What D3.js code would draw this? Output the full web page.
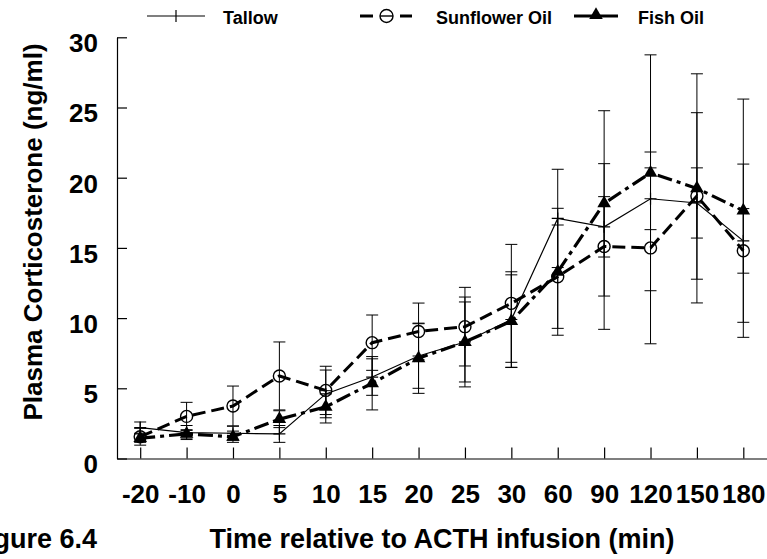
<!DOCTYPE html>
<html>
<head>
<meta charset="utf-8">
<script src="https://cdn.jsdelivr.net/npm/d3@7"></script>
<style>
  body { margin: 0; background: #fff; }
  svg { display: block; font-family: Arial, "Liberation Sans", Helvetica, sans-serif; font-weight: bold; }
</style>
</head>
<body>
<svg id="chart" width="767" height="559"></svg>
<script>
// time points (min relative to ACTH infusion)
const times = ["-20", "-10", "0", "5", "10", "15", "20", "25", "30", "60", "90", "120", "150", "180"];

// plasma corticosterone, mean and error (ng/ml)
const tallowMean    = [2.2, 1.85, 1.8, 1.75, 4.6, 5.8, 7.3, 8.3, 9.9, 17.1, 16.5, 18.5, 18.2, 15.5];
const tallowErr     = [0.4, 0.5, 0.5, 0.6, 1.7, 1.3, 2.3, 3.2, 3.4, 3.5, 2.15, 2.2, 2.5, 2.3];
const sunflowerMean = [1.55, 3.0, 3.74, 5.88, 4.85, 8.25, 9.05, 9.39, 11.05, 12.95, 15.1, 15.0, 18.7, 14.8];
const sunflowerErr  = [0.6, 1.0, 1.42, 2.42, 1.72, 1.97, 2.02, 2.8, 4.2, 3.68, 5.9, 6.83, 5.93, 6.17];
const fishMean      = [1.45, 1.75, 1.55, 2.8, 3.68, 5.36, 7.14, 8.3, 9.78, 13.3, 18.17, 20.35, 19.24, 17.65];
const fishErr       = [0.3, 0.3, 0.4, 0.6, 1.15, 1.9, 2.5, 2.85, 3.3, 4.52, 6.6, 8.4, 8.16, 7.95];

const yTicks = [0, 5, 10, 15, 20, 25, 30];
const seriesNames = ["Tallow", "Sunflower Oil", "Fish Oil"];

const svg = d3.select("#chart");

const x = d3.scalePoint().domain(times).range([117, 766.5]).padding(0.5);
const y = d3.scaleLinear().domain([0, 30]).range([458.5, 37.3]);

// axes
const yAxis = svg.append("g")
    .attr("transform", "translate(117,0)")
    .call(d3.axisLeft(y).tickValues(yTicks).tickSizeInner(-10).tickSizeOuter(0).tickPadding(19));
yAxis.selectAll("text").attr("dy", "0.55em").style("font-size", "26px");

const xAxis = svg.append("g")
    .attr("transform", "translate(0,458.5)")
    .call(d3.axisBottom(x).tickSizeInner(-11).tickSizeOuter(0).tickPadding(26));
xAxis.selectAll("text").style("font-size", "26px");

svg.selectAll(".domain, .tick line").attr("stroke", "#000").attr("stroke-width", 1.2);
svg.selectAll(".tick text").attr("fill", "#000").attr("font-family", null).attr("font-size", null);

// axis titles
svg.append("text")
    .attr("transform", "translate(42,232) rotate(-90)")
    .attr("text-anchor", "middle")
    .style("font-size", "26px")
    .text("Plasma Corticosterone (ng/ml)");

svg.append("text")
    .attr("x", 442).attr("y", 548)
    .attr("text-anchor", "middle")
    .style("font-size", "27px")
    .text("Time relative to ACTH infusion (min)");

svg.append("text")
    .attr("x", 97).attr("y", 548)
    .attr("text-anchor", "end")
    .style("font-size", "27px")
    .text("Figure 6.4");

const series = [
  { name: seriesNames[0], mean: tallowMean, err: tallowErr, width: 1.2, dash: null },
  { name: seriesNames[1], mean: sunflowerMean, err: sunflowerErr, width: 3, dash: "13,6" },
  { name: seriesNames[2], mean: fishMean, err: fishErr, width: 3.2, dash: "15,5,4,5" }
];

// error bars
series.forEach(s => {
  const g = svg.append("g").attr("stroke", "#000").attr("stroke-width", 1);
  times.forEach((t, i) => {
    const cx = x(t), lo = y(s.mean[i] - s.err[i]), hi = y(s.mean[i] + s.err[i]);
    g.append("line").attr("x1", cx).attr("x2", cx).attr("y1", lo).attr("y2", hi);
    g.append("line").attr("x1", cx - 6).attr("x2", cx + 6).attr("y1", lo).attr("y2", lo);
    g.append("line").attr("x1", cx - 6).attr("x2", cx + 6).attr("y1", hi).attr("y2", hi);
  });
});

// lines
const line = d3.line().x((d, i) => x(times[i])).y(d => y(d));
series.forEach(s => {
  svg.append("path")
      .datum(s.mean)
      .attr("d", line)
      .attr("fill", "none")
      .attr("stroke", "#000")
      .attr("stroke-width", s.width)
      .attr("stroke-dasharray", s.dash);
});

// markers
const tri = d3.symbol(d3.symbolTriangle).size(80);

svg.append("g").selectAll("path")
    .data(tallowMean)
    .join("path")
    .attr("d", (d, i) => `M${x(times[i]) - 6},${y(d)}h12M${x(times[i])},${y(d) - 6}v12`)
    .attr("stroke", "#000").attr("stroke-width", 1.2);

svg.append("g").selectAll("circle")
    .data(sunflowerMean)
    .join("circle")
    .attr("cx", (d, i) => x(times[i]))
    .attr("cy", d => y(d))
    .attr("r", 6)
    .attr("fill", "none")
    .attr("stroke", "#000").attr("stroke-width", 1.4);

svg.append("g").selectAll("path")
    .data(fishMean)
    .join("path")
    .attr("transform", (d, i) => `translate(${x(times[i])},${y(d)})`)
    .attr("d", tri)
    .attr("fill", "#000");

// legend
const lg = svg.append("g");
lg.append("line").attr("x1", 147).attr("x2", 205).attr("y1", 16).attr("y2", 16)
    .attr("stroke", "#000").attr("stroke-width", 1.2);
lg.append("line").attr("x1", 176).attr("x2", 176).attr("y1", 10).attr("y2", 22)
    .attr("stroke", "#000").attr("stroke-width", 1.2);
lg.append("text").attr("x", 223).attr("y", 24).style("font-size", "18px").text(seriesNames[0]);

lg.append("line").attr("x1", 360).attr("x2", 373).attr("y1", 16).attr("y2", 16)
    .attr("stroke", "#000").attr("stroke-width", 3);
lg.append("line").attr("x1", 400).attr("x2", 412).attr("y1", 16).attr("y2", 16)
    .attr("stroke", "#000").attr("stroke-width", 3);
lg.append("line").attr("x1", 380).attr("x2", 393).attr("y1", 16).attr("y2", 16)
    .attr("stroke", "#000").attr("stroke-width", 1.4);
lg.append("circle").attr("cx", 386.5).attr("cy", 16).attr("r", 6.5)
    .attr("fill", "none").attr("stroke", "#000").attr("stroke-width", 1.4);
lg.append("text").attr("x", 436).attr("y", 24).style("font-size", "18px").text(seriesNames[1]);

lg.append("line").attr("x1", 574).attr("x2", 618).attr("y1", 16).attr("y2", 16)
    .attr("stroke", "#000").attr("stroke-width", 3);
lg.append("path").attr("transform", "translate(596,15)").attr("d", tri).attr("fill", "#000");
lg.append("text").attr("x", 638).attr("y", 24).style("font-size", "18px").text(seriesNames[2]);
</script>
</body>
</html>
